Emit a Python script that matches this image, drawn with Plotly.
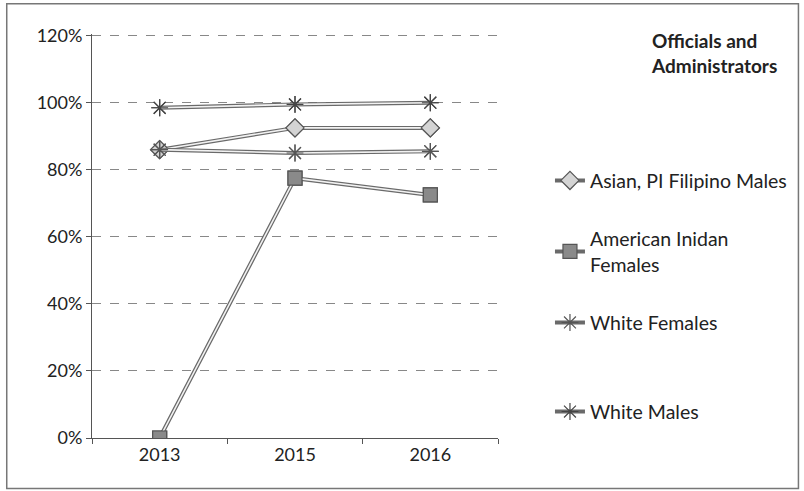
import plotly.graph_objects as go

# Categories and series values (share of workforce)
years = ["2013", "2015", "2016"]
asian_pi_filipino_males = [0.86, 0.925, 0.925]
american_indian_females = [0.0, 0.775, 0.725]
white_females = [0.86, 0.85, 0.855]
white_males = [0.985, 0.995, 1.0]

series_names = ["Asian, PI Filipino Males", "American Inidan<br>Females",
                "White Females", "White Males"]
series_values = [asian_pi_filipino_males, american_indian_females,
                 white_females, white_males]
y_ticks = [0, 0.2, 0.4, 0.6, 0.8, 1.0, 1.2]
y_tick_labels = ["0%", "20%", "40%", "60%", "80%", "100%", "120%"]

# Marker styling per series
symbols = ["diamond", "square", "asterisk-open", "asterisk-open"]
fills = ["#d4d4d4", "#8a8a8a", "#555555", "#444444"]
# the last series sits in a second legend block lower down
legend_ids = ["legend", "legend", "legend", "legend2"]

FONT = "Lato, 'Open Sans', sans-serif"
fig = go.Figure()

for i, (name, vals) in enumerate(zip(series_names, series_values)):
    grp = f"g{i}"
    # dark outer stroke of the hollow line (carries the legend entry)
    fig.add_trace(go.Scatter(
        x=years, y=vals, name=name, legendgroup=grp, legend=legend_ids[i],
        mode="lines+markers",
        line=dict(color="#6a6a6a", width=4),
        marker=dict(symbol=symbols[i], size=14, color=fills[i],
                    line=dict(color="#555555", width=1.2)),
        hoverinfo="skip"))
    # light inner stroke
    fig.add_trace(go.Scatter(
        x=years, y=vals, legendgroup=grp, showlegend=False, mode="lines",
        line=dict(color="#f2f2f2", width=1.6), hoverinfo="skip"))
    # markers on top
    fig.add_trace(go.Scatter(
        x=years, y=vals, legendgroup=grp, showlegend=False, mode="markers",
        marker=dict(symbol=symbols[i], size=14, color=fills[i],
                    line=dict(color="#555555", width=1.2)),
        hoverinfo="skip"))

legend_font = dict(size=19.5, color="#222222")
fig.update_layout(
    width=804, height=491,
    margin=dict(l=92, r=304, t=34, b=53),
    paper_bgcolor="white", plot_bgcolor="white",
    font=dict(family=FONT, size=18, color="#222222"),
    showlegend=True,
    legend=dict(x=1.128, y=0.685, xanchor="left", yanchor="top",
                tracegroupgap=30, font=legend_font,
                bgcolor="rgba(0,0,0,0)", itemwidth=30),
    legend2=dict(x=1.128, y=0.113, xanchor="left", yanchor="top",
                 font=legend_font, bgcolor="rgba(0,0,0,0)", itemwidth=30),
    xaxis=dict(type="category", showline=True, linecolor="#555555",
               linewidth=1, ticks="outside", tickson="boundaries",
               ticklen=5, tickcolor="#555555", showgrid=False,
               range=[-0.5, 2.5], tickfont=dict(size=18)),
    yaxis=dict(range=[0, 1.205], tickvals=y_ticks, ticktext=y_tick_labels,
               showline=True, linecolor="#555555", linewidth=1,
               ticks="outside", ticklen=5, tickcolor="#555555",
               showgrid=True, gridcolor="#888888", griddash="dash",
               gridwidth=1, zeroline=False, tickfont=dict(size=18)),
    annotations=[dict(
        text="<b>Officials and<br>Administrators</b>", xref="paper",
        yref="paper", x=1.372, y=1.018, xanchor="left", yanchor="top",
        showarrow=False, align="left", font=dict(size=19, color="#222222"))],
    shapes=[dict(type="rect", xref="paper", yref="paper",
                 x0=-0.21, x1=1.74, y0=-0.125, y1=1.075,
                 line=dict(color="#777777", width=1.5))],
)

fig.write_html("out.html")
